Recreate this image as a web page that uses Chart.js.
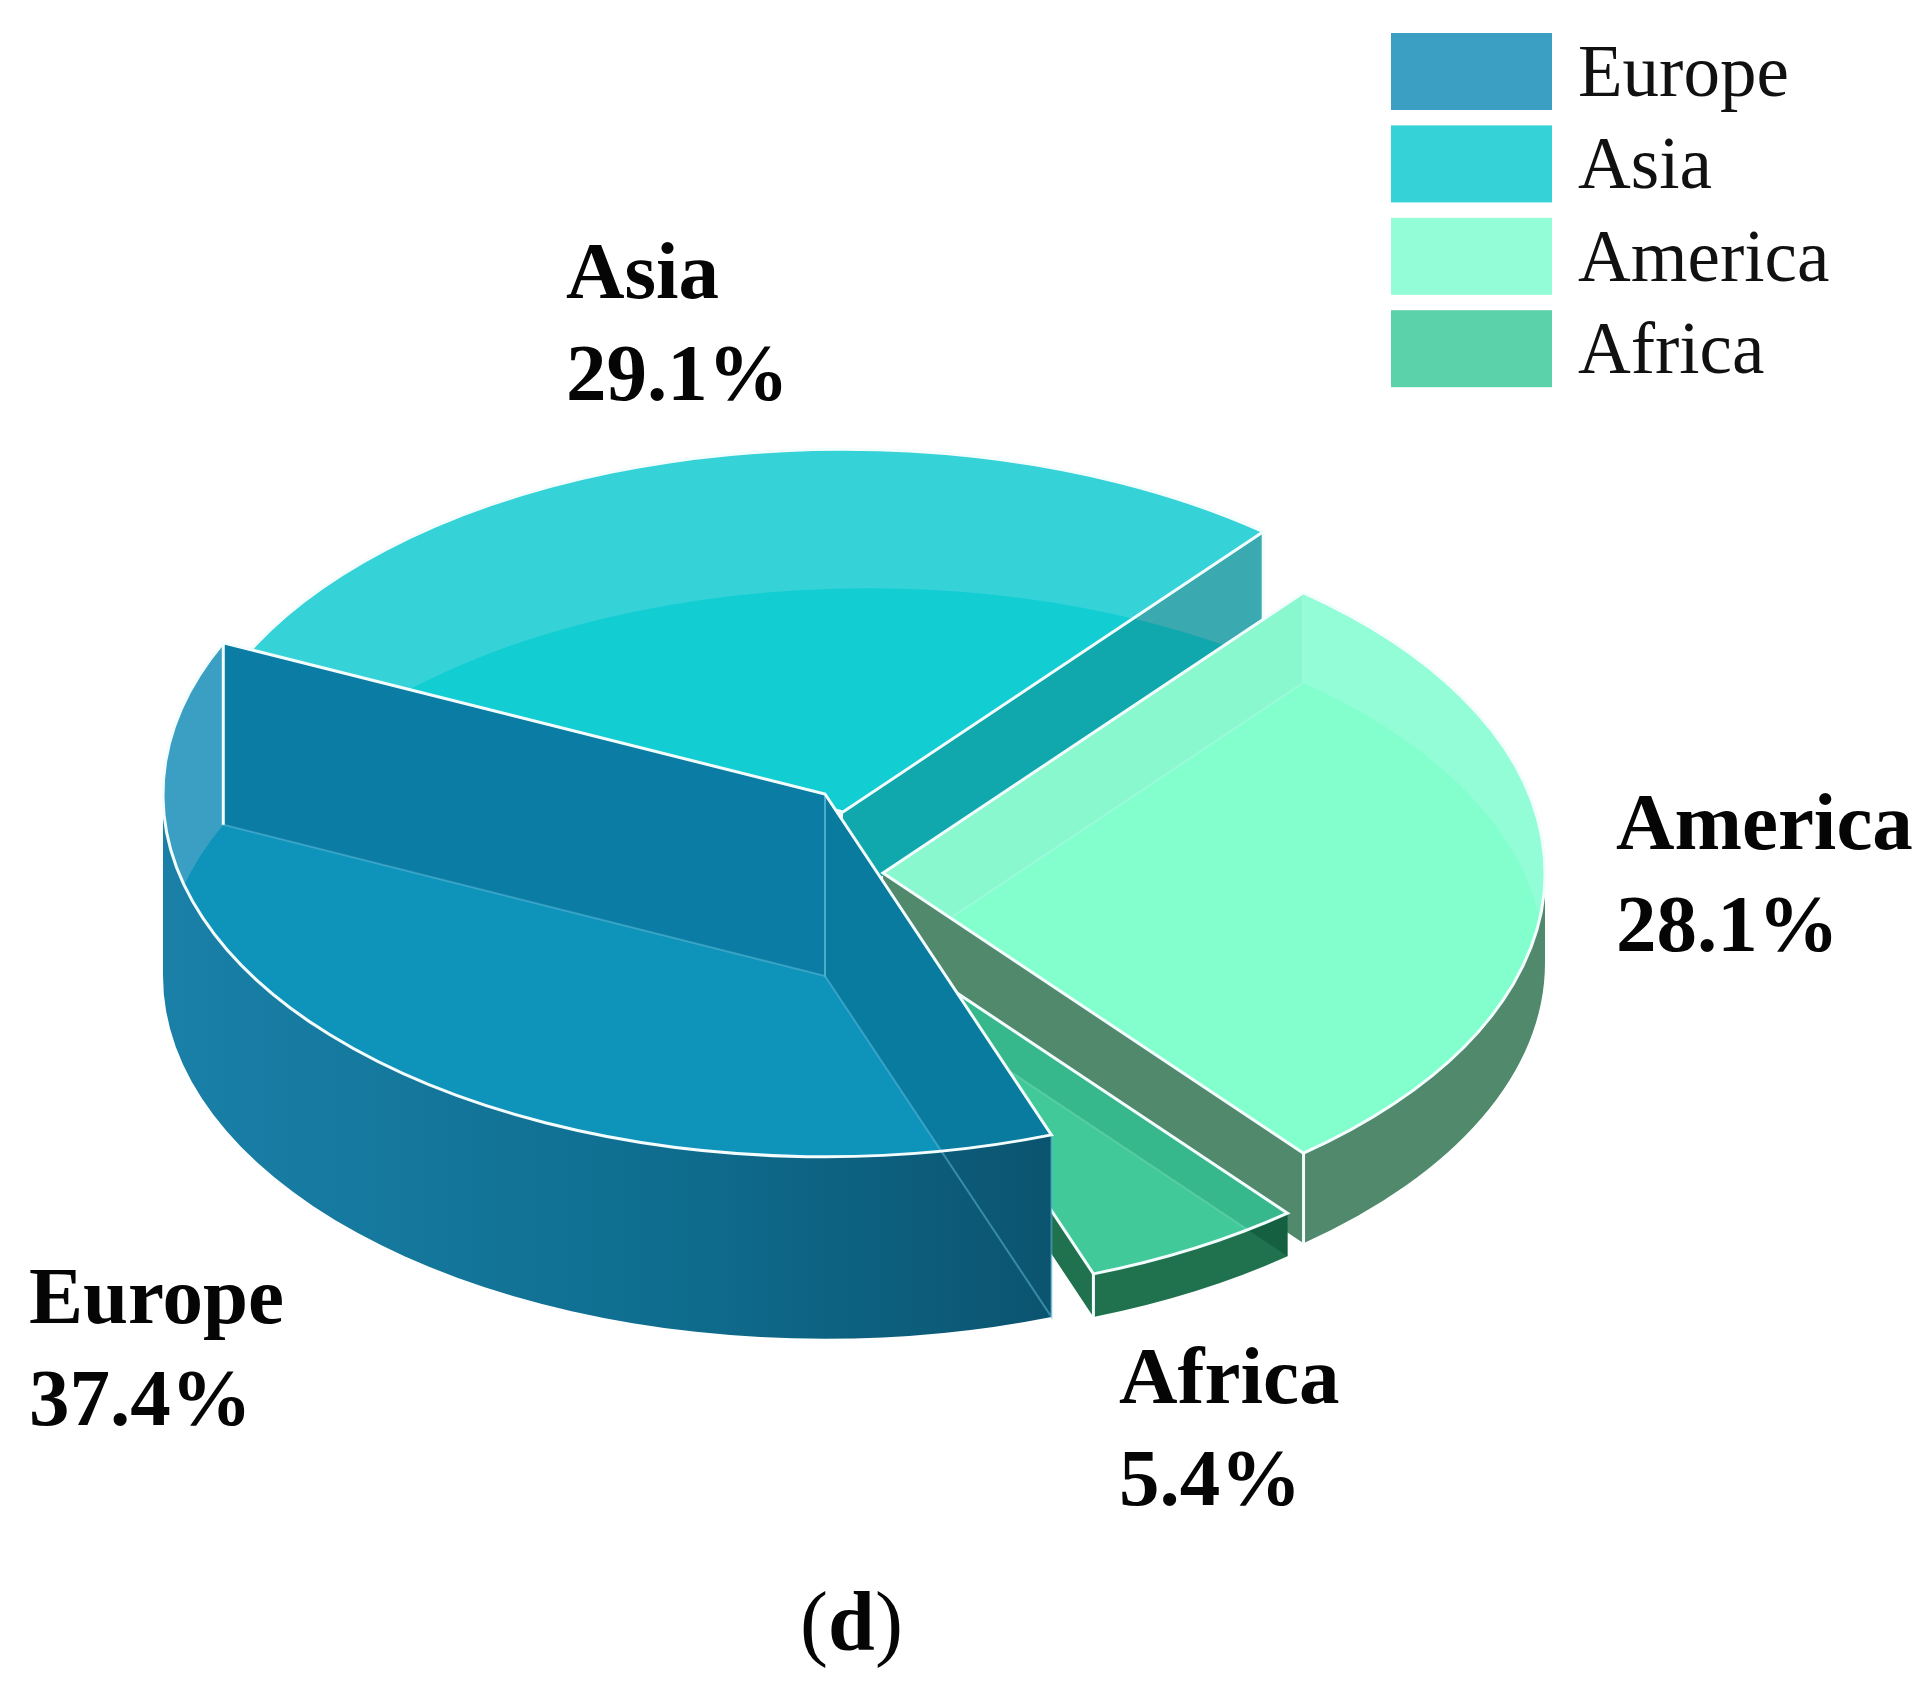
<!DOCTYPE html>
<html>
<head>
<meta charset="utf-8">
<script src="https://cdn.jsdelivr.net/npm/chart.js@4"></script>
<style>
    html, body { margin: 0; padding: 0; background: #fff; }
    canvas { display: block; }
</style>
</head>
<body>
<canvas id="pieChart" width="1930" height="1688"></canvas>
<script>
const categories = ['Europe', 'Asia', 'America', 'Africa'];
const shares = [37.4, 29.1, 28.1, 5.4];

const sliceColors = ['#3a9fc3', '#35d3d8', '#92fdd7', '#5bd2aa'];

// how far each slice is pulled away from the pie centre, and how tall it is
const shiftX = [0, 18, 58, 42];
const shiftY = [0, 18, 79, 139];
const depths = [182, 90, 90, 43];
const squash = 0.548;

// paint order, back to front
const paintOrder = [1, 2, 3, 0];

const looks = [
    {
        floor: [0, 182], floorColor: '#0e93bb', edge: 'rgba(95,190,220,0.5)',
        seeThrough: [
            { side: 'start', top: '#087b9f', wall: null },
            { side: 'end', top: '#0b7ca4', wall: '#0a455c' }
        ]
    },
    {
        floor: [25, 139], floorColor: '#12ced3',
        outWall: '#3aa9b0', outWallFloor: '#10a8ac', seeThrough: []
    },
    {
        floor: [0, 90], floorColor: '#83ffce', edge: 'rgba(170,250,225,0.5)', edgeTopOnly: true,
        outWall: '#50896c', sideColor: '#50896c',
        seeThrough: [{ side: 'start', top: '#8af8cf', wall: null }]
    },
    {
        floor: [0, 43], floorColor: '#41c99a', edge: 'rgba(120,220,180,0.4)', edgeTopOnly: true,
        outWall: '#20724f', sideColor: '#20724f',
        seeThrough: [{ side: 'start', top: '#37b88c', wall: '#156040' }]
    }
];

const labelSpots = [
    { x: 29, y: 1323 },
    { x: 566, y: 298 },
    { x: 1616, y: 849 },
    { x: 1119, y: 1403 }
];

const legendSpots = { boxX: 1391, boxY: 33, boxW: 161, boxH: 77, step: 92.4, textX: 1578, textOff: 63 };

function sectorPath(ctx, cx, cy, r, a0, a1) {
    ctx.beginPath();
    ctx.moveTo(cx, cy);
    ctx.ellipse(cx, cy, r, r * squash, 0, a0, a1);
    ctx.closePath();
}

function wallPath(ctx, cx, cy, r, a, depth) {
    const tipX = cx + r * Math.cos(a);
    const tipY = cy + r * squash * Math.sin(a);
    ctx.beginPath();
    ctx.moveTo(cx, cy);
    ctx.lineTo(tipX, tipY);
    ctx.lineTo(tipX, tipY + depth);
    ctx.lineTo(cx, cy + depth);
    ctx.closePath();
}

// the front facing part of the rim, only the angles that look at the viewer
function sidePath(ctx, cx, cy, r, a0, a1, depth) {
    const two = Math.PI * 2;
    let from = a0, to = a1;
    while (to > two) { from -= two; to -= two; }
    from = Math.max(from, 0);
    to = Math.min(to, Math.PI);
    if (to <= from) return false;
    ctx.beginPath();
    ctx.ellipse(cx, cy, r, r * squash, 0, from, to);
    ctx.ellipse(cx, cy + depth, r, r * squash, 0, to, from, true);
    ctx.closePath();
    return true;
}

function paintSlice(chart, el, i) {
    const ctx = chart.ctx;
    const look = looks[i];
    const p = el.getProps(['x', 'y', 'startAngle', 'endAngle', 'outerRadius'], true);
    const cx = p.x + shiftX[i];
    const cy = p.y + shiftY[i];
    const r = p.outerRadius;
    const a0 = p.startAngle;
    const a1 = p.endAngle;
    const depth = depths[i];
    const fx = cx + look.floor[0];
    const fy = cy + look.floor[1];

    // rim
    if (sidePath(ctx, cx, cy, r, a0, a1, depth)) {
        let fill = look.sideColor;
        if (!fill) {
            fill = ctx.createLinearGradient(cx - r, 0, cx + r * Math.cos(a0), 0);
            fill.addColorStop(0, '#1a80a8');
            fill.addColorStop(0.55, '#0f6e90');
            fill.addColorStop(1, '#0b5470');
        }
        ctx.fillStyle = fill;
        ctx.fill();
    }

    // cut face that looks outward
    if (look.outWall) {
        wallPath(ctx, cx, cy, r, a1, depth);
        ctx.fillStyle = look.outWall;
        ctx.fill();
        if (look.outWallFloor) {
            ctx.save();
            sectorPath(ctx, fx, fy, r, a0, a1);
            ctx.clip();
            wallPath(ctx, cx, cy, r, a1, depth);
            ctx.fillStyle = look.outWallFloor;
            ctx.fill();
            ctx.restore();
        }
    }

    // top face comes from the arc element itself
    ctx.save();
    ctx.translate(cx, cy);
    ctx.scale(1, squash);
    ctx.translate(-p.x, -p.y);
    el.draw(ctx);
    ctx.restore();

    // the floor and the inner faces show through the top
    ctx.save();
    sectorPath(ctx, cx, cy, r, a0, a1);
    ctx.clip();
    sectorPath(ctx, fx, fy, r, a0, a1);
    ctx.fillStyle = look.floorColor;
    ctx.fill();
    look.seeThrough.forEach(w => {
        wallPath(ctx, cx, cy, r, w.side === 'start' ? a0 : a1, depth);
        ctx.fillStyle = w.top;
        ctx.fill();
    });
    ctx.restore();

    look.seeThrough.forEach(w => {
        if (!w.wall) return;
        ctx.save();
        sidePath(ctx, cx, cy, r, a0, a1, depth);
        ctx.clip();
        wallPath(ctx, cx, cy, r, w.side === 'start' ? a0 : a1, depth);
        ctx.fillStyle = w.wall;
        ctx.fill();
        ctx.restore();
    });

    // faint lines of the hidden edges
    if (look.edge) {
        ctx.save();
        if (look.edgeTopOnly) {
            sectorPath(ctx, cx, cy, r, a0, a1);
            ctx.clip();
        }
        ctx.strokeStyle = look.edge;
        ctx.lineWidth = 2;
        look.seeThrough.forEach(w => {
            wallPath(ctx, cx, cy, r, w.side === 'start' ? a0 : a1, depth);
            ctx.stroke();
        });
        ctx.restore();
    }

    // white outline of the top and the corner at the end of the slice
    ctx.strokeStyle = '#f4fdfd';
    ctx.lineWidth = 3;
    sectorPath(ctx, cx, cy, r, a0, a1);
    ctx.stroke();
    const endX = cx + r * Math.cos(a1);
    const endY = cy + r * squash * Math.sin(a1);
    ctx.beginPath();
    ctx.moveTo(endX, endY);
    ctx.lineTo(endX, endY + depth);
    ctx.stroke();
}

const pie3d = {
    id: 'pie3d',
    beforeDatasetDraw(chart) {
        const arcs = chart.getDatasetMeta(0).data;
        paintOrder.forEach(i => paintSlice(chart, arcs[i], i));
        return false;
    },
    afterDraw(chart) {
        const ctx = chart.ctx;
        ctx.save();
        ctx.textBaseline = 'alphabetic';
        ctx.textAlign = 'left';

        // slice labels
        ctx.fillStyle = '#050505';
        ctx.font = 'bold 81px "Liberation Serif"';
        categories.forEach((name, i) => {
            const spot = labelSpots[i];
            ctx.fillText(name, spot.x, spot.y);
            ctx.fillText(shares[i].toFixed(1) + '%', spot.x, spot.y + 102);
        });

        // legend
        const l = legendSpots;
        categories.forEach((name, i) => {
            const top = l.boxY + l.step * i;
            ctx.fillStyle = sliceColors[i];
            ctx.fillRect(l.boxX, top, l.boxW, l.boxH);
            ctx.fillStyle = '#111';
            ctx.font = '73px "Liberation Serif"';
            ctx.fillText(name, l.textX, top + l.textOff);
        });

        // panel letter
        ctx.fillStyle = '#050505';
        ctx.font = '84px "Liberation Serif"';
        ctx.fillText('(', 800, 1650);
        ctx.font = 'bold 84px "Liberation Serif"';
        ctx.fillText('d', 828, 1650);
        ctx.font = '84px "Liberation Serif"';
        ctx.fillText(')', 875, 1650);
        ctx.restore();
    }
};

new Chart(document.getElementById('pieChart'), {
    type: 'pie',
    data: {
        labels: categories,
        datasets: [{
            data: shares,
            backgroundColor: sliceColors,
            borderWidth: 0
        }]
    },
    options: {
        responsive: false,
        animation: false,
        events: [],
        rotation: 160,
        layout: { padding: { left: 163, top: 132, right: 443, bottom: 232 } },
        plugins: {
            legend: { display: false },
            tooltip: { enabled: false }
        }
    },
    plugins: [pie3d]
});
</script>
</body>
</html>
